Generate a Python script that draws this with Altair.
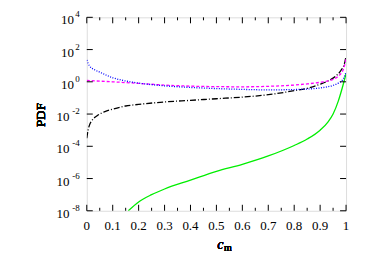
import altair as alt
import pandas as pd

# ---- data (log10 of PDF) ----
blue_c = [0.0, 0.01, 0.03, 0.05, 0.1, 0.15, 0.2, 0.3, 0.4, 0.5, 0.6, 0.7, 0.8, 0.85, 0.9, 0.95, 0.97, 0.99, 1.0]
blue_log = [1.35, 1.0, 0.75, 0.6, 0.25, 0.05, -0.08, -0.25, -0.35, -0.42, -0.47, -0.5, -0.48, -0.45, -0.38, -0.22, -0.08, 0.2, 0.6]

mag_c = [0.0, 0.1, 0.2, 0.3, 0.4, 0.5, 0.6, 0.7, 0.8, 0.85, 0.9, 0.95, 0.97, 0.99, 1.0]
mag_log = [0.08, 0.0, -0.1, -0.2, -0.27, -0.3, -0.31, -0.28, -0.2, -0.13, -0.03, 0.15, 0.35, 0.8, 1.4]

blk_c = [0.0, 0.005, 0.01, 0.02, 0.04, 0.07, 0.1, 0.15, 0.2, 0.3, 0.4, 0.5, 0.6, 0.7, 0.8, 0.85, 0.9, 0.93, 0.96, 0.98, 0.995, 1.0]
blk_log = [-3.5, -3.0, -2.7, -2.4, -2.1, -1.85, -1.7, -1.5, -1.4, -1.25, -1.15, -1.05, -0.95, -0.8, -0.55, -0.4, -0.15, 0.05, 0.35, 0.7, 1.2, 1.6]

grn_c = [0.16, 0.2, 0.25, 0.3, 0.4, 0.5, 0.6, 0.7, 0.8, 0.85, 0.9, 0.93, 0.95, 0.97, 0.985, 1.0]
grn_log = [-8.0, -7.45, -7.0, -6.65, -6.1, -5.55, -5.12, -4.6, -3.95, -3.55, -3.0, -2.5, -2.0, -1.2, -0.4, 0.5]

x_major = [0.0, 0.1, 0.2, 0.3, 0.4, 0.5, 0.6, 0.7, 0.8, 0.9, 1.0]
x_labels = ["0", "0.1", "0.2", "0.3", "0.4", "0.5", "0.6", "0.7", "0.8", "0.9", "1"]
x_minor = [0.05, 0.15, 0.25, 0.35, 0.45, 0.55, 0.65, 0.75, 0.85, 0.95]
y_ticks = [1e4, 1e2, 1e0, 1e-2, 1e-4, 1e-6, 1e-8]
y_exps = ["4", "2", "0", "-2", "-4", "-6", "-8"]

W, H = 260, 194
FONT = "Times New Roman, Liberation Serif, serif"

rows = []
for name, cs, ls in [("blue", blue_c, blue_log), ("mag", mag_c, mag_log),
                     ("blk", blk_c, blk_log), ("grn", grn_c, grn_log)]:
    for c, l in zip(cs, ls):
        rows.append({"series": name, "c": c, "pdf": 10 ** l})
df = pd.DataFrame(rows)

xs = alt.Scale(domain=[0, 1], nice=False, zero=False)
ys = alt.Scale(type="log", domain=[1e-8, 1e4], nice=False)

def line(name, color, dash):
    kw = {"strokeDash": dash} if dash else {}
    return alt.Chart(df).transform_filter(alt.datum.series == name).mark_line(
        color=color, strokeWidth=1.3, interpolate="monotone", clip=True, **kw
    ).encode(
        x=alt.X("c:Q", scale=xs, axis=None),
        y=alt.Y("pdf:Q", scale=ys, axis=None),
        order="c:Q",
    )

lines = [
    line("grn", "#00ee00", None),
    line("blk", "#000000", [6, 2, 1, 2]),
    line("mag", "#ff00ff", [3, 2]),
    line("blue", "#0000ff", [1, 1.5]),
]

xmaj = pd.DataFrame({"v": x_major, "lab": x_labels})
xmin = pd.DataFrame({"v": x_minor})
yt = pd.DataFrame({"v": y_ticks, "e": y_exps})

def xticks(d, length):
    b = alt.Chart(d).mark_rule(color="black", strokeWidth=1).encode(
        x=alt.X("v:Q", scale=xs, axis=None), y=alt.value(H), y2=alt.value(H - length))
    t = alt.Chart(d).mark_rule(color="black", strokeWidth=1).encode(
        x=alt.X("v:Q", scale=xs, axis=None), y=alt.value(0), y2=alt.value(length))
    return [b, t]

yl = alt.Chart(yt).mark_rule(color="black", strokeWidth=1).encode(
    y=alt.Y("v:Q", scale=ys, axis=None), x=alt.value(0), x2=alt.value(6))
yr = alt.Chart(yt).mark_rule(color="black", strokeWidth=1).encode(
    y=alt.Y("v:Q", scale=ys, axis=None), x=alt.value(W), x2=alt.value(W - 6))

xlab = alt.Chart(xmaj).mark_text(font=FONT, fontSize=13, baseline="middle", align="center").encode(
    x=alt.X("v:Q", scale=xs, axis=None), y=alt.value(H + 15), text="lab:N")

ybase = alt.Chart(yt).transform_calculate(
    xp="-8 - length(datum.e) * 4.4 - 0.5"
).mark_text(font=FONT, fontSize=13, baseline="middle", align="right", dy=3).encode(
    y=alt.Y("v:Q", scale=ys, axis=None), x=alt.X("xp:Q", scale=None, axis=None),
    text=alt.value("10"))
yexp = alt.Chart(yt).mark_text(font=FONT, fontSize=9, baseline="middle", align="right", dy=-3).encode(
    y=alt.Y("v:Q", scale=ys, axis=None), x=alt.value(-7), text="e:N")

ytitle = alt.Chart(yt).mark_text(font=FONT, fontSize=13, angle=270, baseline="middle", align="center").encode(
    x=alt.value(-46), y=alt.value(98), text=alt.value("PDF"))
xt_c = alt.Chart(yt).mark_text(font=FONT, fontSize=14, fontStyle="italic", baseline="middle", align="right").encode(
    x=alt.value(137), y=alt.value(H + 34), text=alt.value("c"))
xt_m = alt.Chart(yt).mark_text(font=FONT, fontSize=10, baseline="middle", align="left").encode(
    x=alt.value(137.5), y=alt.value(H + 37), text=alt.value("m"))

chart = alt.layer(
    *lines, *xticks(xmaj, 6), *xticks(xmin, 3), yl, yr, xlab, ybase, yexp, ytitle, xt_c, xt_m
).properties(
    width=W, height=H,
    autosize=alt.AutoSizeParams(type="none"),
    padding={"left": 79, "top": 9, "right": 20, "bottom": 45},
).configure_view(stroke="black", strokeWidth=1.5).configure(background="white")

chart.save("out.html", embed_options={"renderer": "svg", "actions": False})
